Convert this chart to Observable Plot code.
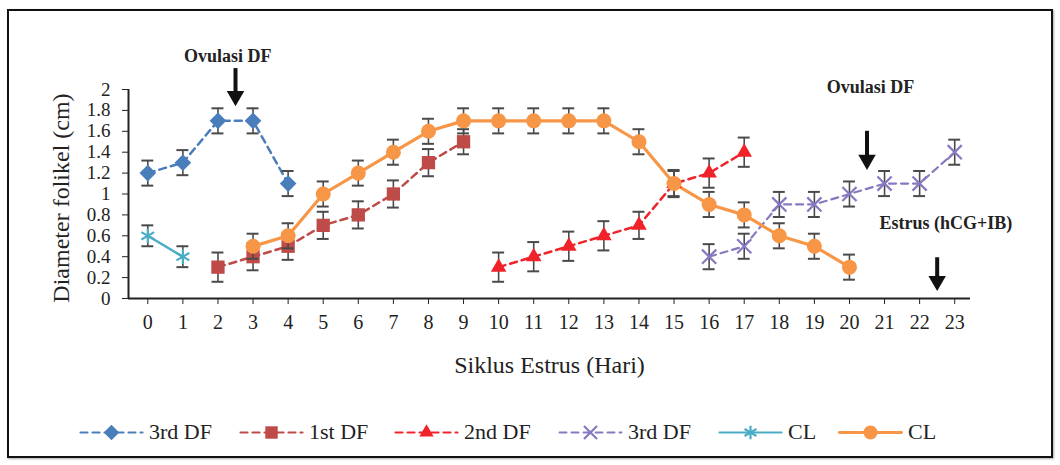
<!DOCTYPE html>
<html><head><meta charset="utf-8">
<script src="https://cdn.jsdelivr.net/npm/d3@7"></script>
<script src="https://cdn.jsdelivr.net/npm/@observablehq/plot@0.6"></script>
<style>
body{margin:0;background:#fff;width:1060px;height:465px;overflow:hidden;font-family:"Liberation Serif",serif;position:relative;}
#frame{position:absolute;left:7px;top:9px;width:1042px;height:445px;border:2px solid #111;box-shadow:1px 1px 2px #aaa;}
#chart{position:absolute;left:0;top:0;}
#legend{position:absolute;left:0;top:419px;width:1060px;height:26px;}
.item{position:absolute;top:0;display:flex;align-items:center;}
.item span{font-size:22px;color:#222;margin-left:5px;line-height:26px;white-space:nowrap;}
</style></head><body>
<div id="frame"></div><div id="chart"></div><div id="legend"></div>
<script>
// ---- data ----
const dayTicks = [0,1,2,3,4,5,6,7,8,9,10,11,12,13,14,15,16,17,18,19,20,21,22,23];
const yTicks = [0,0.2,0.4,0.6,0.8,1,1.2,1.4,1.6,1.8,2];

const df3aDays = [0,1,2,3,4];
const df3aVals = [1.2,1.3,1.7,1.7,1.1];
const df3aErr  = [0.12,0.12,0.12,0.12,0.12];

const df1Days = [2,3,4,5,6,7,8,9];
const df1Vals = [0.3,0.4,0.5,0.7,0.8,1.0,1.3,1.5];
const df1Err  = [0.14,0.13,0.13,0.13,0.13,0.13,0.13,0.12];

const df2Days = [10,11,12,13,14,15,16,17];
const df2Vals = [0.3,0.4,0.5,0.6,0.7,1.1,1.2,1.4];
const df2Err  = [0.14,0.14,0.14,0.14,0.13,0.13,0.14,0.14];

const df3bDays = [16,17,18,19,20,21,22,23];
const df3bVals = [0.4,0.5,0.9,0.9,1.0,1.1,1.1,1.4];
const df3bErr  = [0.12,0.12,0.12,0.12,0.12,0.12,0.12,0.12];

const clCyanDays = [0,1];
const clCyanVals = [0.6,0.4];
const clCyanErr  = [0.1,0.1];

const clOrangeDays = [3,4,5,6,7,8,9,10,11,12,13,14,15,16,17,18,19,20];
const clOrangeVals = [0.5,0.6,1.0,1.2,1.4,1.6,1.7,1.7,1.7,1.7,1.7,1.5,1.1,0.9,0.8,0.6,0.5,0.3];
const clOrangeErr  = [0.12,0.12,0.12,0.12,0.12,0.12,0.12,0.12,0.12,0.12,0.12,0.12,0.12,0.12,0.12,0.12,0.12,0.12];

const seriesNames = ["3rd DF","1st DF","2nd DF","3rd DF","CL","CL"];

const annoText = ["Ovulasi DF","Ovulasi DF","Estrus (hCG+IB)"];
const annoX = [2.28,20.6,22.75];
const annoY = [2.32,2.02,0.72];
const arrowX = [2.5,20.5,22.5];
const arrowTop = [2.2,1.6,0.39];
const arrowTip = [1.88,1.27,0.11];

// ---- styles ----
const styles = [
  {color:"#4A7EBB", dash:"7,5", symbol:"diamond2", r:7.5, filled:true, sw:2.5},
  {color:"#BE4B48", dash:"7,5", symbol:"square", r:7.5, filled:true, sw:2.5},
  {color:"#F0232A", dash:"7,5", symbol:"triangle", r:5.8, filled:true, sw:2.5},
  {color:"#8878C0", dash:"7,5", symbol:"times", r:6.5, filled:false, sw:2.2},
  {color:"#4BACC6", dash:null, symbol:"asterisk", r:7, filled:false, sw:2.5},
  {color:"#F79646", dash:null, symbol:"circle", r:7.5, filled:true, sw:3.2}
];
const legendLeft = [78,238,393,557,717,837];

const raw = [
  [df3aDays,df3aVals,df3aErr],[df1Days,df1Vals,df1Err],[df2Days,df2Vals,df2Err],
  [df3bDays,df3bVals,df3bErr],[clCyanDays,clCyanVals,clCyanErr],[clOrangeDays,clOrangeVals,clOrangeErr]
];
const series = raw.map(([d,v,e],k) => ({
  name: seriesNames[k], ...styles[k],
  rows: d.map((day,i)=>({day, v:v[i], e:e[i]}))
}));

const marks = [
  Plot.ruleY([0], {stroke:"#222", strokeWidth:2}),
  Plot.ruleX([-0.55], {stroke:"#222", strokeWidth:2}),
  Plot.axisX({ticks: dayTicks, tickSize:6, tickPadding:10, fontSize:20, tickFormat:d=>String(d), label:null, stroke:"#222"}),
  Plot.axisY({ticks: yTicks, tickSize:6, tickPadding:12, fontSize:19, tickFormat:d=>String(+d.toFixed(1)), label:null, stroke:"#222"}),
  Plot.text(["Diameter folikel (cm)"], {frameAnchor:"left", dx:-67, dy:4, rotate:-90, textAnchor:"middle", fontSize:24, fill:"#222"}),
  Plot.text(["Siklus Estrus (Hari)"], {frameAnchor:"bottom", dy:74, textAnchor:"middle", fontSize:24, fill:"#222"})
];
for (const s of series) {
  marks.push(Plot.line(s.rows, {x:"day", y:"v", stroke:s.color, strokeWidth:s.sw, strokeDasharray:s.dash ?? undefined}));
}
for (const s of series) {
  marks.push(Plot.ruleX(s.rows, {x:"day", y1:d=>d.v-d.e, y2:d=>d.v+d.e, stroke:"#4a4a4a", strokeWidth:1.6}));
  marks.push(Plot.ruleY(s.rows, {y:d=>d.v+d.e, x1:d=>d.day-0.17, x2:d=>d.day+0.17, stroke:"#4a4a4a", strokeWidth:2}));
  marks.push(Plot.ruleY(s.rows, {y:d=>d.v-d.e, x1:d=>d.day-0.17, x2:d=>d.day+0.17, stroke:"#4a4a4a", strokeWidth:2}));
  marks.push(Plot.dot(s.rows, s.filled
    ? {x:"day", y:"v", symbol:s.symbol, r:s.r, fill:s.color, stroke:"none"}
    : {x:"day", y:"v", symbol:s.symbol, r:s.r, fill:"none", stroke:s.color, strokeWidth:2.2}));
}
const annos = annoText.map((t,i)=>({t, x:annoX[i], y:annoY[i]}));
const arrows = arrowX.map((x,i)=>({x, y1:arrowTop[i], y2:arrowTip[i]}));
marks.push(Plot.text(annos, {x:"x", y:"y", text:"t", fontSize:18, fontWeight:"bold", fill:"#222"}));
marks.push(Plot.ruleX(arrows, {x:"x", y1:"y1", y2:d=>d.y2+0.08, stroke:"#111", strokeWidth:4}));
marks.push(Plot.dot(arrows, {x:"x", y:"y2", symbol:"triangle", r:6.5, rotate:180, dy:-6, fill:"#111"}));

const chart = Plot.plot({
  width:1060, height:400,
  marginLeft:128, marginRight:90, marginTop:89, marginBottom:102,
  x:{domain:[-0.55,23.45]},
  y:{domain:[0,2]},
  style:{fontFamily:"'Liberation Serif', serif", fontSize:"20px", background:"transparent", color:"#222"},
  marks
});
document.getElementById("chart").append(chart);

// ---- legend (each swatch is a tiny Plot) ----
const legend = document.getElementById("legend");
series.forEach((s,k) => {
  const sw = Plot.plot({
    width:66, height:22, margin:0, marginLeft:2, marginRight:2,
    x:{domain:[0,2], axis:null}, y:{domain:[0,1], axis:null},
    style:{background:"transparent"},
    marks:[
      Plot.line([{x:0,y:0.5},{x:2,y:0.5}], {x:"x", y:"y", stroke:s.color, strokeWidth:s.sw-0.3, strokeDasharray:s.dash ?? undefined}),
      Plot.dot([{x:1,y:0.5}], s.filled
        ? {x:"x", y:"y", symbol:s.symbol, r:s.r-0.5, fill:s.color}
        : {x:"x", y:"y", symbol:s.symbol, r:s.r-0.5, fill:"none", stroke:s.color, strokeWidth:2.2})
    ]
  });
  const item = document.createElement("div");
  item.className = "item";
  item.style.left = legendLeft[k] + "px";
  item.append(sw);
  const sp = document.createElement("span");
  sp.textContent = s.name;
  item.append(sp);
  legend.append(item);
});
</script>
</body></html>
